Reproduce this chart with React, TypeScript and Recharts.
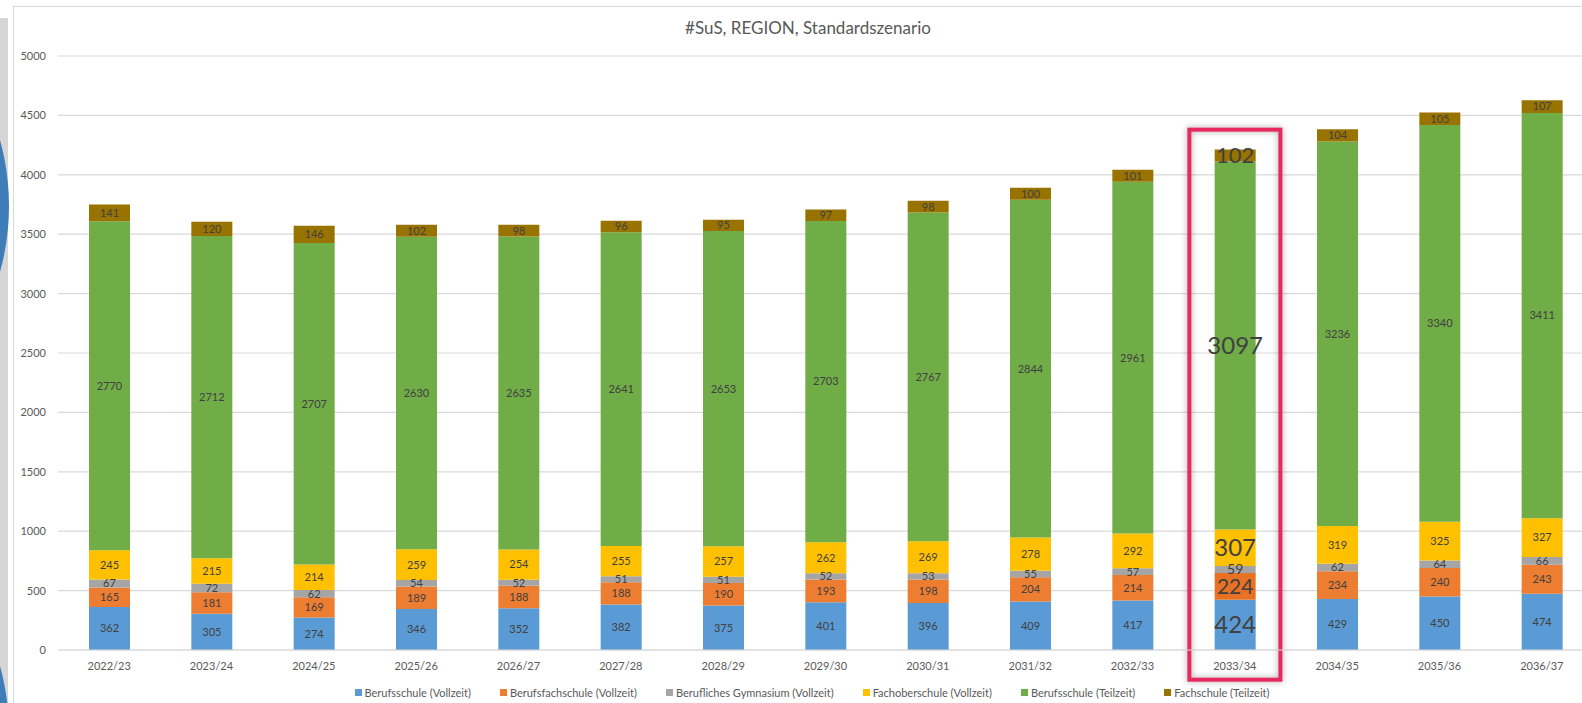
import React from 'react';
import {
  BarChart,
  Bar,
  XAxis,
  YAxis,
  CartesianGrid,
  Legend,
  LabelList,
  Cell,
  ReferenceArea,
} from 'recharts';

const years = [
  '2022/23', '2023/24', '2024/25', '2025/26', '2026/27', '2027/28', '2028/29', '2029/30',
  '2030/31', '2031/32', '2032/33', '2033/34', '2034/35', '2035/36', '2036/37',
];
const berufsschuleVollzeit = [362, 305, 274, 346, 352, 382, 375, 401, 396, 409, 417, 424, 429, 450, 474];
const berufsfachschuleVollzeit = [165, 181, 169, 189, 188, 188, 190, 193, 198, 204, 214, 224, 234, 240, 243];
const gymnasiumVollzeit = [67, 72, 62, 54, 52, 51, 51, 52, 53, 55, 57, 59, 62, 64, 66];
const fachoberschuleVollzeit = [245, 215, 214, 259, 254, 255, 257, 262, 269, 278, 292, 307, 319, 325, 327];
const berufsschuleTeilzeit = [2770, 2712, 2707, 2630, 2635, 2641, 2653, 2703, 2767, 2844, 2961, 3097, 3236, 3340, 3411];
const fachschuleTeilzeit = [141, 120, 146, 102, 98, 96, 95, 97, 98, 100, 101, 102, 104, 105, 107];
const yTicks = [0, 500, 1000, 1500, 2000, 2500, 3000, 3500, 4000, 4500, 5000];

const HIGHLIGHT = '2033/34';
const FONT = 'Lato, "Open Sans", sans-serif';

// key, legend name, colour, label size in the highlighted column
const SERIES = [
  { key: 'bsv', name: 'Berufsschule (Vollzeit)', color: '#5B9BD5', big: 24 },
  { key: 'bfs', name: 'Berufsfachschule (Vollzeit)', color: '#ED7D31', big: 21 },
  { key: 'gym', name: 'Berufliches Gymnasium (Vollzeit)', color: '#A5A5A5', big: 14 },
  { key: 'fos', name: 'Fachoberschule (Vollzeit)', color: '#FFC000', big: 24 },
  { key: 'bst', name: 'Berufsschule (Teilzeit)', color: '#70AD47', big: 24 },
  { key: 'fst', name: 'Fachschule (Teilzeit)', color: '#997300', big: 22 },
];

const data = years.map((year, i) => ({
  year,
  bsv: berufsschuleVollzeit[i],
  bfs: berufsfachschuleVollzeit[i],
  gym: gymnasiumVollzeit[i],
  fos: fachoberschuleVollzeit[i],
  bst: berufsschuleTeilzeit[i],
  fst: fachschuleTeilzeit[i],
}));

const LegendRow = () => (
  <div
    style={{
      display: 'flex',
      justifyContent: 'center',
      gap: 29,
      fontFamily: FONT,
      fontSize: 11,
      color: '#595959',
      height: 16,
      alignItems: 'center',
    }}
  >
    {SERIES.map(s => (
      <div key={s.key} style={{ display: 'flex', alignItems: 'center' }}>
        <span style={{ width: 7, height: 7, background: s.color, marginRight: 3, display: 'inline-block' }} />
        <span>{s.name}</span>
      </div>
    ))}
  </div>
);

const HighlightBox = (props: any) => {
  const { x, y, width, height } = props;
  return (
    <rect
      x={x + 5.7}
      y={y}
      width={width - 11.3}
      height={height}
      fill="none"
      stroke="#E8295F"
      strokeWidth={4}
      style={{ filter: 'drop-shadow(0px 0px 3px rgba(0,0,0,0.35))' }}
    />
  );
};

export default function App() {
  return (
    <div
      style={{
        position: 'fixed',
        left: 0,
        top: 0,
        width: 1582,
        height: 703,
        overflow: 'hidden',
        background: '#ffffff',
      }}
    >
      {/* slide decoration on the left edge */}
      <div style={{ position: 'absolute', left: 0, top: 18, width: 8, height: 685, background: '#d6d6d6' }} />
      <div
        style={{
          position: 'absolute',
          left: -483,
          top: -40,
          width: 492,
          height: 492,
          borderRadius: '50%',
          background: '#3F7DB9',
        }}
      />
      <div
        style={{
          position: 'absolute',
          left: -483,
          top: 486,
          width: 492,
          height: 492,
          borderRadius: '50%',
          background: '#3F7DB9',
        }}
      />
      {/* chart area frame */}
      <div
        style={{
          position: 'absolute',
          left: 13,
          top: 6,
          width: 1640,
          height: 720,
          border: '1px solid #d9d9d9',
          background: '#ffffff',
        }}
      />
      <div
        style={{
          position: 'absolute',
          left: 0,
          top: 18,
          width: 1616,
          textAlign: 'center',
          fontFamily: FONT,
          fontSize: 17,
          lineHeight: '20px',
          color: '#595959',
        }}
      >
        #SuS, REGION, Standardszenario
      </div>
      <div style={{ position: 'absolute', left: 0, top: 0 }}>
        <BarChart
          width={1611}
          height={703}
          data={data}
          margin={{ top: 56, right: 18, left: 0, bottom: 3 }}
        >
          <CartesianGrid vertical={false} stroke="#d9d9d9" strokeWidth={1.2} />
          <XAxis
            dataKey="year"
            height={34}
            tickLine={false}
            tickSize={6}
            tickMargin={6}
            axisLine={{ stroke: '#d9d9d9', strokeWidth: 1.2 }}
            tick={{ fill: '#595959', fontSize: 11, fontFamily: FONT }}
            interval={0}
          />
          <YAxis
            width={58}
            domain={[0, 5000]}
            ticks={yTicks}
            axisLine={false}
            tickLine={false}
            tickSize={6}
            tickMargin={6}
            tick={{ fill: '#595959', fontSize: 11, fontFamily: FONT }}
          />
          <Legend
            verticalAlign="bottom"
            content={<LegendRow />}
            wrapperStyle={{ left: 0, width: 1624 }}
          />
          {SERIES.map(s => (
            <Bar
              key={s.key}
              dataKey={s.key}
              name={s.name}
              stackId="a"
              fill={s.color}
              barSize={41}
              isAnimationActive={false}
            >
              {s.key === 'bfs' &&
                data.map(d => (
                  <Cell key={d.year} fill={d.year === HIGHLIGHT ? '#E97124' : s.color} />
                ))}
              <LabelList
                dataKey={(r: any) => (r.year === HIGHLIGHT ? null : r[s.key])}
                position="center"
                fill="#404040"
                fontSize={11}
                fontFamily={FONT}
              />
              <LabelList
                dataKey={(r: any) => (r.year === HIGHLIGHT ? r[s.key] : null)}
                position="center"
                fill="#404040"
                fontSize={s.big}
                fontFamily={FONT}
              />
            </Bar>
          ))}
          <ReferenceArea
            x1={HIGHLIGHT}
            x2={HIGHLIGHT}
            y1={-250}
            y2={4380}
            ifOverflow="visible"
            shape={<HighlightBox />}
          />
        </BarChart>
      </div>
    </div>
  );
}
